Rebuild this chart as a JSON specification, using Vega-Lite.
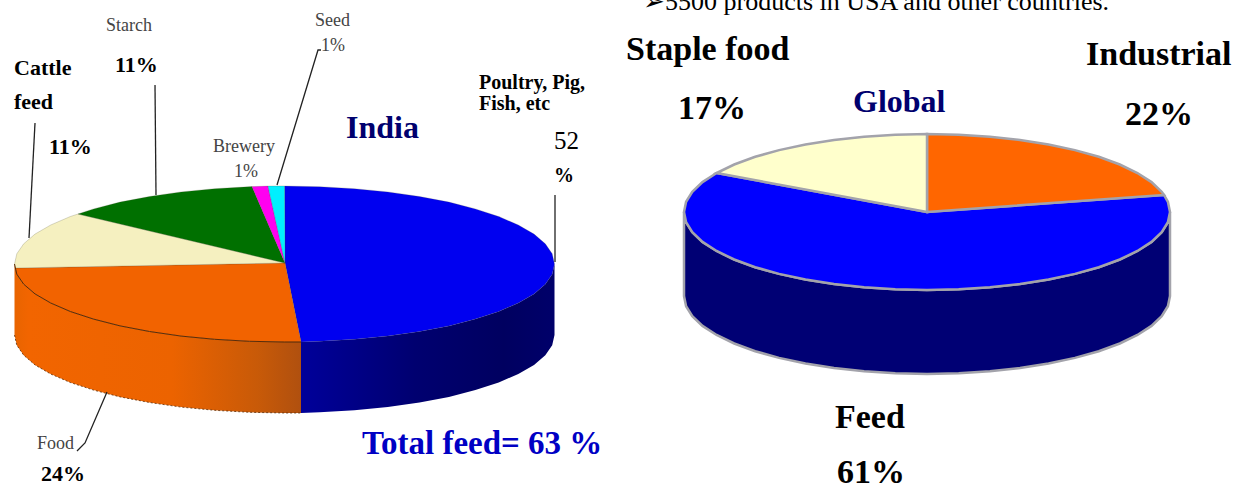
{
"$schema":"https://vega.github.io/schema/vega-lite/v6.json",
"width":1235,"height":488,
"autosize":{"type":"fit","contains":"padding"},
"padding":0,
"background":"white",
"config":{"view":{"stroke":null}},
"datasets":{
"tops":[
{"pie":"India","slice":"Poultry, Pig, Fish, etc","share":52,"step":0,"x":285,"y":263},
{"pie":"India","slice":"Poultry, Pig, Fish, etc","share":52,"step":1,"x":284.5,"y":186},
{"pie":"India","slice":"Poultry, Pig, Fish, etc","share":52,"step":2,"x":319.7,"y":186.7},
{"pie":"India","slice":"Poultry, Pig, Fish, etc","share":52,"step":3,"x":354.4,"y":188.7},
{"pie":"India","slice":"Poultry, Pig, Fish, etc","share":52,"step":4,"x":387.8,"y":191.9},
{"pie":"India","slice":"Poultry, Pig, Fish, etc","share":52,"step":5,"x":419.5,"y":196.5},
{"pie":"India","slice":"Poultry, Pig, Fish, etc","share":52,"step":6,"x":448.9,"y":202.1},
{"pie":"India","slice":"Poultry, Pig, Fish, etc","share":52,"step":7,"x":475.4,"y":208.9},
{"pie":"India","slice":"Poultry, Pig, Fish, etc","share":52,"step":8,"x":498.7,"y":216.5},
{"pie":"India","slice":"Poultry, Pig, Fish, etc","share":52,"step":9,"x":518.3,"y":225},
{"pie":"India","slice":"Poultry, Pig, Fish, etc","share":52,"step":10,"x":534,"y":234.1},
{"pie":"India","slice":"Poultry, Pig, Fish, etc","share":52,"step":11,"x":545.3,"y":243.8},
{"pie":"India","slice":"Poultry, Pig, Fish, etc","share":52,"step":12,"x":552.2,"y":253.8},
{"pie":"India","slice":"Poultry, Pig, Fish, etc","share":52,"step":13,"x":554.5,"y":264},
{"pie":"India","slice":"Poultry, Pig, Fish, etc","share":52,"step":14,"x":552.2,"y":274.2},
{"pie":"India","slice":"Poultry, Pig, Fish, etc","share":52,"step":15,"x":545.3,"y":284.2},
{"pie":"India","slice":"Poultry, Pig, Fish, etc","share":52,"step":16,"x":534,"y":293.9},
{"pie":"India","slice":"Poultry, Pig, Fish, etc","share":52,"step":17,"x":518.3,"y":303},
{"pie":"India","slice":"Poultry, Pig, Fish, etc","share":52,"step":18,"x":498.7,"y":311.5},
{"pie":"India","slice":"Poultry, Pig, Fish, etc","share":52,"step":19,"x":475.4,"y":319.1},
{"pie":"India","slice":"Poultry, Pig, Fish, etc","share":52,"step":20,"x":448.9,"y":325.9},
{"pie":"India","slice":"Poultry, Pig, Fish, etc","share":52,"step":21,"x":419.5,"y":331.5},
{"pie":"India","slice":"Poultry, Pig, Fish, etc","share":52,"step":22,"x":387.8,"y":336.1},
{"pie":"India","slice":"Poultry, Pig, Fish, etc","share":52,"step":23,"x":354.4,"y":339.3},
{"pie":"India","slice":"Poultry, Pig, Fish, etc","share":52,"step":24,"x":319.7,"y":341.3},
{"pie":"India","slice":"Poultry, Pig, Fish, etc","share":52,"step":25,"x":301,"y":342},
{"pie":"India","slice":"Food","share":24,"step":0,"x":285,"y":263},
{"pie":"India","slice":"Food","share":24,"step":1,"x":301,"y":342},
{"pie":"India","slice":"Food","share":24,"step":2,"x":284.5,"y":342},
{"pie":"India","slice":"Food","share":24,"step":3,"x":249.3,"y":341.3},
{"pie":"India","slice":"Food","share":24,"step":4,"x":214.6,"y":339.3},
{"pie":"India","slice":"Food","share":24,"step":5,"x":181.2,"y":336.1},
{"pie":"India","slice":"Food","share":24,"step":6,"x":149.5,"y":331.5},
{"pie":"India","slice":"Food","share":24,"step":7,"x":120.1,"y":325.9},
{"pie":"India","slice":"Food","share":24,"step":8,"x":93.6,"y":319.1},
{"pie":"India","slice":"Food","share":24,"step":9,"x":70.3,"y":311.5},
{"pie":"India","slice":"Food","share":24,"step":10,"x":50.7,"y":303},
{"pie":"India","slice":"Food","share":24,"step":11,"x":35,"y":293.9},
{"pie":"India","slice":"Food","share":24,"step":12,"x":23.7,"y":284.2},
{"pie":"India","slice":"Food","share":24,"step":13,"x":16.8,"y":274.2},
{"pie":"India","slice":"Food","share":24,"step":14,"x":15,"y":268},
{"pie":"India","slice":"Cattle feed","share":11,"step":0,"x":285,"y":263},
{"pie":"India","slice":"Cattle feed","share":11,"step":1,"x":15,"y":268},
{"pie":"India","slice":"Cattle feed","share":11,"step":2,"x":14.5,"y":264},
{"pie":"India","slice":"Cattle feed","share":11,"step":3,"x":16.8,"y":253.8},
{"pie":"India","slice":"Cattle feed","share":11,"step":4,"x":23.7,"y":243.8},
{"pie":"India","slice":"Cattle feed","share":11,"step":5,"x":35,"y":234.1},
{"pie":"India","slice":"Cattle feed","share":11,"step":6,"x":50.7,"y":225},
{"pie":"India","slice":"Cattle feed","share":11,"step":7,"x":70.3,"y":216.5},
{"pie":"India","slice":"Cattle feed","share":11,"step":8,"x":78,"y":214},
{"pie":"India","slice":"Starch","share":11,"step":0,"x":285,"y":263},
{"pie":"India","slice":"Starch","share":11,"step":1,"x":78,"y":214},
{"pie":"India","slice":"Starch","share":11,"step":2,"x":93.6,"y":208.9},
{"pie":"India","slice":"Starch","share":11,"step":3,"x":120.1,"y":202.1},
{"pie":"India","slice":"Starch","share":11,"step":4,"x":149.5,"y":196.5},
{"pie":"India","slice":"Starch","share":11,"step":5,"x":181.2,"y":191.9},
{"pie":"India","slice":"Starch","share":11,"step":6,"x":214.6,"y":188.7},
{"pie":"India","slice":"Starch","share":11,"step":7,"x":252,"y":186.6},
{"pie":"India","slice":"Brewery","share":1,"step":0,"x":285,"y":263},
{"pie":"India","slice":"Brewery","share":1,"step":1,"x":252,"y":186.6},
{"pie":"India","slice":"Brewery","share":1,"step":2,"x":268,"y":186.1},
{"pie":"India","slice":"Seed","share":1,"step":0,"x":285,"y":263},
{"pie":"India","slice":"Seed","share":1,"step":1,"x":268,"y":186.1},
{"pie":"India","slice":"Seed","share":1,"step":2,"x":284.5,"y":186},
{"pie":"Global","slice":"Feed","share":61,"step":0,"x":927,"y":212},
{"pie":"Global","slice":"Feed","share":61,"step":1,"x":716.6,"y":173},
{"pie":"Global","slice":"Feed","share":61,"step":2,"x":702.5,"y":182.1},
{"pie":"Global","slice":"Feed","share":61,"step":3,"x":692.3,"y":191.8},
{"pie":"Global","slice":"Feed","share":61,"step":4,"x":686.1,"y":201.8},
{"pie":"Global","slice":"Feed","share":61,"step":5,"x":684,"y":212},
{"pie":"Global","slice":"Feed","share":61,"step":6,"x":686.1,"y":222.2},
{"pie":"Global","slice":"Feed","share":61,"step":7,"x":692.3,"y":232.2},
{"pie":"Global","slice":"Feed","share":61,"step":8,"x":702.5,"y":241.9},
{"pie":"Global","slice":"Feed","share":61,"step":9,"x":716.6,"y":251},
{"pie":"Global","slice":"Feed","share":61,"step":10,"x":734.2,"y":259.5},
{"pie":"Global","slice":"Feed","share":61,"step":11,"x":755.2,"y":267.2},
{"pie":"Global","slice":"Feed","share":61,"step":12,"x":779.1,"y":273.9},
{"pie":"Global","slice":"Feed","share":61,"step":13,"x":805.5,"y":279.5},
{"pie":"Global","slice":"Feed","share":61,"step":14,"x":834,"y":284.1},
{"pie":"Global","slice":"Feed","share":61,"step":15,"x":864.1,"y":287.3},
{"pie":"Global","slice":"Feed","share":61,"step":16,"x":895.3,"y":289.3},
{"pie":"Global","slice":"Feed","share":61,"step":17,"x":927,"y":290},
{"pie":"Global","slice":"Feed","share":61,"step":18,"x":958.7,"y":289.3},
{"pie":"Global","slice":"Feed","share":61,"step":19,"x":989.9,"y":287.3},
{"pie":"Global","slice":"Feed","share":61,"step":20,"x":1020,"y":284.1},
{"pie":"Global","slice":"Feed","share":61,"step":21,"x":1048.5,"y":279.5},
{"pie":"Global","slice":"Feed","share":61,"step":22,"x":1074.9,"y":273.9},
{"pie":"Global","slice":"Feed","share":61,"step":23,"x":1098.8,"y":267.2},
{"pie":"Global","slice":"Feed","share":61,"step":24,"x":1119.8,"y":259.5},
{"pie":"Global","slice":"Feed","share":61,"step":25,"x":1137.4,"y":251},
{"pie":"Global","slice":"Feed","share":61,"step":26,"x":1151.5,"y":241.9},
{"pie":"Global","slice":"Feed","share":61,"step":27,"x":1161.7,"y":232.2},
{"pie":"Global","slice":"Feed","share":61,"step":28,"x":1167.9,"y":222.2},
{"pie":"Global","slice":"Feed","share":61,"step":29,"x":1170,"y":212},
{"pie":"Global","slice":"Feed","share":61,"step":30,"x":1167.9,"y":201.8},
{"pie":"Global","slice":"Feed","share":61,"step":31,"x":1164,"y":195},
{"pie":"Global","slice":"Industrial","share":22,"step":0,"x":927,"y":212},
{"pie":"Global","slice":"Industrial","share":22,"step":1,"x":927,"y":134},
{"pie":"Global","slice":"Industrial","share":22,"step":2,"x":958.7,"y":134.7},
{"pie":"Global","slice":"Industrial","share":22,"step":3,"x":989.9,"y":136.7},
{"pie":"Global","slice":"Industrial","share":22,"step":4,"x":1020,"y":139.9},
{"pie":"Global","slice":"Industrial","share":22,"step":5,"x":1048.5,"y":144.5},
{"pie":"Global","slice":"Industrial","share":22,"step":6,"x":1074.9,"y":150.1},
{"pie":"Global","slice":"Industrial","share":22,"step":7,"x":1098.8,"y":156.8},
{"pie":"Global","slice":"Industrial","share":22,"step":8,"x":1119.8,"y":164.5},
{"pie":"Global","slice":"Industrial","share":22,"step":9,"x":1137.4,"y":173},
{"pie":"Global","slice":"Industrial","share":22,"step":10,"x":1151.5,"y":182.1},
{"pie":"Global","slice":"Industrial","share":22,"step":11,"x":1161.7,"y":191.8},
{"pie":"Global","slice":"Industrial","share":22,"step":12,"x":1164,"y":195},
{"pie":"Global","slice":"Staple food","share":17,"step":0,"x":927,"y":212},
{"pie":"Global","slice":"Staple food","share":17,"step":1,"x":716.6,"y":173},
{"pie":"Global","slice":"Staple food","share":17,"step":2,"x":734.2,"y":164.5},
{"pie":"Global","slice":"Staple food","share":17,"step":3,"x":755.2,"y":156.8},
{"pie":"Global","slice":"Staple food","share":17,"step":4,"x":779.1,"y":150.1},
{"pie":"Global","slice":"Staple food","share":17,"step":5,"x":805.5,"y":144.5},
{"pie":"Global","slice":"Staple food","share":17,"step":6,"x":834,"y":139.9},
{"pie":"Global","slice":"Staple food","share":17,"step":7,"x":864.1,"y":136.7},
{"pie":"Global","slice":"Staple food","share":17,"step":8,"x":895.3,"y":134.7},
{"pie":"Global","slice":"Staple food","share":17,"step":9,"x":927,"y":134}
],
"walls":[
{"slice":"Food","x":14.5,"y":264,"y2":335},
{"slice":"Food","x":16.8,"y":274.2,"y2":345.2},
{"slice":"Food","x":23.7,"y":284.2,"y2":355.2},
{"slice":"Food","x":35,"y":293.9,"y2":364.9},
{"slice":"Food","x":50.7,"y":303,"y2":374},
{"slice":"Food","x":70.3,"y":311.5,"y2":382.5},
{"slice":"Food","x":93.6,"y":319.1,"y2":390.1},
{"slice":"Food","x":120.1,"y":325.9,"y2":396.9},
{"slice":"Food","x":149.5,"y":331.5,"y2":402.5},
{"slice":"Food","x":181.2,"y":336.1,"y2":407.1},
{"slice":"Food","x":214.6,"y":339.3,"y2":410.3},
{"slice":"Food","x":249.3,"y":341.3,"y2":412.3},
{"slice":"Food","x":284.5,"y":342,"y2":413},
{"slice":"Food","x":301,"y":342,"y2":413},
{"slice":"Poultry, Pig, Fish, etc","x":301,"y":342,"y2":413},
{"slice":"Poultry, Pig, Fish, etc","x":319.7,"y":341.3,"y2":412.3},
{"slice":"Poultry, Pig, Fish, etc","x":354.4,"y":339.3,"y2":410.3},
{"slice":"Poultry, Pig, Fish, etc","x":387.8,"y":336.1,"y2":407.1},
{"slice":"Poultry, Pig, Fish, etc","x":419.5,"y":331.5,"y2":402.5},
{"slice":"Poultry, Pig, Fish, etc","x":448.9,"y":325.9,"y2":396.9},
{"slice":"Poultry, Pig, Fish, etc","x":475.4,"y":319.1,"y2":390.1},
{"slice":"Poultry, Pig, Fish, etc","x":498.7,"y":311.5,"y2":382.5},
{"slice":"Poultry, Pig, Fish, etc","x":518.3,"y":303,"y2":374},
{"slice":"Poultry, Pig, Fish, etc","x":534,"y":293.9,"y2":364.9},
{"slice":"Poultry, Pig, Fish, etc","x":545.3,"y":284.2,"y2":355.2},
{"slice":"Poultry, Pig, Fish, etc","x":552.2,"y":274.2,"y2":345.2},
{"slice":"Poultry, Pig, Fish, etc","x":554.5,"y":264,"y2":335},
{"slice":"Feed","x":684,"y":212,"y2":296},
{"slice":"Feed","x":686.1,"y":222.2,"y2":306.2},
{"slice":"Feed","x":692.3,"y":232.2,"y2":316.2},
{"slice":"Feed","x":702.5,"y":241.9,"y2":325.9},
{"slice":"Feed","x":716.6,"y":251,"y2":335},
{"slice":"Feed","x":734.2,"y":259.5,"y2":343.5},
{"slice":"Feed","x":755.2,"y":267.2,"y2":351.2},
{"slice":"Feed","x":779.1,"y":273.9,"y2":357.9},
{"slice":"Feed","x":805.5,"y":279.5,"y2":363.5},
{"slice":"Feed","x":834,"y":284.1,"y2":368.1},
{"slice":"Feed","x":864.1,"y":287.3,"y2":371.3},
{"slice":"Feed","x":895.3,"y":289.3,"y2":373.3},
{"slice":"Feed","x":927,"y":290,"y2":374},
{"slice":"Feed","x":958.7,"y":289.3,"y2":373.3},
{"slice":"Feed","x":989.9,"y":287.3,"y2":371.3},
{"slice":"Feed","x":1020,"y":284.1,"y2":368.1},
{"slice":"Feed","x":1048.5,"y":279.5,"y2":363.5},
{"slice":"Feed","x":1074.9,"y":273.9,"y2":357.9},
{"slice":"Feed","x":1098.8,"y":267.2,"y2":351.2},
{"slice":"Feed","x":1119.8,"y":259.5,"y2":343.5},
{"slice":"Feed","x":1137.4,"y":251,"y2":335},
{"slice":"Feed","x":1151.5,"y":241.9,"y2":325.9},
{"slice":"Feed","x":1161.7,"y":232.2,"y2":316.2},
{"slice":"Feed","x":1167.9,"y":222.2,"y2":306.2},
{"slice":"Feed","x":1170,"y":212,"y2":296}
],
"leaders":[
{"leader":"Food","step":0,"x":107,"y":392},
{"leader":"Food","step":1,"x":85,"y":443},
{"leader":"Food","step":2,"x":77,"y":451},
{"leader":"Cattle feed","step":0,"x":35,"y":123},
{"leader":"Cattle feed","step":1,"x":29,"y":238},
{"leader":"Starch","step":0,"x":155,"y":85},
{"leader":"Starch","step":1,"x":156,"y":195},
{"leader":"Seed","step":0,"x":321,"y":50},
{"leader":"Seed","step":1,"x":318,"y":50},
{"leader":"Seed","step":2,"x":277,"y":185},
{"leader":"Poultry","step":0,"x":555,"y":195},
{"leader":"Poultry","step":1,"x":555,"y":262}
],
"labels":[
{"group":"callout","label":"Starch","x":106,"y":31},
{"group":"callout","label":"Seed","x":315,"y":26},
{"group":"callout","label":"1%","x":321,"y":51},
{"group":"callout","label":"Brewery","x":213,"y":152},
{"group":"callout","label":"1%","x":234,"y":177},
{"group":"callout","label":"Food","x":37,"y":449},
{"group":"strong","label":"Cattle","x":14,"y":75},
{"group":"strong","label":"feed","x":14,"y":109},
{"group":"strong","label":"11%","x":115,"y":72},
{"group":"strong","label":"11%","x":49,"y":154},
{"group":"strong","label":"24%","x":41,"y":481},
{"group":"small","label":"Poultry, Pig,","x":479,"y":89},
{"group":"small","label":"Fish, etc","x":479,"y":110},
{"group":"small","label":"%","x":554,"y":182},
{"group":"plain","label":"52","x":554,"y":149},
{"group":"title","label":"India","x":346,"y":138},
{"group":"title","label":"Global","x":853,"y":112},
{"group":"total","label":"Total feed= 63 %","x":362,"y":454},
{"group":"large","label":"Staple food","x":626,"y":60},
{"group":"large","label":"Industrial","x":1086,"y":65},
{"group":"large","label":"17%","x":678,"y":119},
{"group":"large","label":"22%","x":1125,"y":125},
{"group":"large","label":"Feed","x":835,"y":428},
{"group":"large","label":"61%","x":837,"y":483},
{"group":"note","label":"➢5500 products in USA and other countries.","x":643,"y":10}
]
},
"encoding":{
"x":{"field":"x","type":"quantitative","axis":null,"scale":{"domain":[0,1235],"nice":false,"zero":false}},
"y":{"field":"y","type":"quantitative","axis":null,"scale":{"domain":[488,0],"nice":false,"zero":false}}
},
"layer":[
{"data":{"name":"walls"},"transform":[{"filter":"datum.slice==='Food'"}],
 "mark":{"type":"area","fill":{"gradient":"linear","x1":0,"x2":1,"y1":0,"y2":0,"stops":[{"offset":0,"color":"#e86400"},{"offset":0.05,"color":"#f26500"},{"offset":0.55,"color":"#ec6300"},{"offset":0.85,"color":"#c85a08"},{"offset":1,"color":"#b0500f"}]}},
 "encoding":{"y2":{"field":"y2"}}},
{"data":{"name":"walls"},"transform":[{"filter":"datum.slice==='Poultry, Pig, Fish, etc'"}],
 "mark":{"type":"area","fill":{"gradient":"linear","x1":0,"x2":1,"y1":0,"y2":0,"stops":[{"offset":0,"color":"#00009a"},{"offset":0.45,"color":"#000070"},{"offset":0.8,"color":"#000060"},{"offset":1,"color":"#00006a"}]}},
 "encoding":{"y2":{"field":"y2"}}},
{"data":{"name":"walls"},"transform":[{"filter":"datum.slice==='Feed'"}],
 "mark":{"type":"area","fill":"#000074","stroke":"#a3a3ab","strokeWidth":2.5},
 "encoding":{"y2":{"field":"y2"}}},
{"data":{"name":"tops"},"transform":[{"filter":"datum.pie==='India'"}],
 "mark":{"type":"line","interpolate":"linear-closed","strokeWidth":0.6,"stroke":"#4a4a30","strokeOpacity":0.35},
 "encoding":{"order":{"field":"step"},"detail":{"field":"slice"},
  "fill":{"field":"slice","legend":null,"scale":{"domain":["Poultry, Pig, Fish, etc","Food","Cattle feed","Starch","Brewery","Seed","Feed","Industrial","Staple food"],"range":["#0000f0","#f26300","#f5f0c0","#007000","#ff00f0","#00f0ff","#0000ff","#ff6600","#ffffcc"]}}}},
{"data":{"name":"tops"},"transform":[{"filter":"datum.pie==='Global'"}],
 "mark":{"type":"line","interpolate":"linear-closed","stroke":"#a3a3ab","strokeWidth":2.5},
 "encoding":{"order":{"field":"step"},"detail":{"field":"slice"},
  "fill":{"field":"slice","legend":null}}},
{"data":{"name":"walls"},"transform":[{"filter":"datum.slice==='Food'"}],
 "mark":{"type":"line","stroke":"#5a2c08","strokeWidth":1},"encoding":{"order":{"field":"x"}}},
{"data":{"name":"walls"},"transform":[{"filter":"datum.slice==='Food'"}],
 "mark":{"type":"line","stroke":"#5a2c08","strokeWidth":0.8,"strokeDash":[2,2]},"encoding":{"order":{"field":"x"},"y":{"field":"y2","type":"quantitative"}}},
{"data":{"name":"leaders"},
 "mark":{"type":"line","stroke":"#222222","strokeWidth":1.3},
 "encoding":{"order":{"field":"step"},"detail":{"field":"leader"}}},
{"data":{"name":"labels"},"transform":[{"filter":"datum.group==='callout'"}],
 "mark":{"type":"text","align":"left","baseline":"alphabetic","font":"Liberation Serif","fontSize":18,"fill":"#444444"},
 "encoding":{"text":{"field":"label"}}},
{"data":{"name":"labels"},"transform":[{"filter":"datum.group==='strong'"}],
 "mark":{"type":"text","align":"left","baseline":"alphabetic","font":"Liberation Serif","fontWeight":"bold","fontSize":22,"fill":"#000000"},
 "encoding":{"text":{"field":"label"}}},
{"data":{"name":"labels"},"transform":[{"filter":"datum.group==='small'"}],
 "mark":{"type":"text","align":"left","baseline":"alphabetic","font":"Liberation Serif","fontWeight":"bold","fontSize":20,"fill":"#000000"},
 "encoding":{"text":{"field":"label"}}},
{"data":{"name":"labels"},"transform":[{"filter":"datum.group==='plain'"}],
 "mark":{"type":"text","align":"left","baseline":"alphabetic","font":"Liberation Serif","fontSize":25,"fill":"#000000"},
 "encoding":{"text":{"field":"label"}}},
{"data":{"name":"labels"},"transform":[{"filter":"datum.group==='title'"}],
 "mark":{"type":"text","align":"left","baseline":"alphabetic","font":"Liberation Serif","fontWeight":"bold","fontSize":32,"fill":"#00006e"},
 "encoding":{"text":{"field":"label"}}},
{"data":{"name":"labels"},"transform":[{"filter":"datum.group==='total'"}],
 "mark":{"type":"text","align":"left","baseline":"alphabetic","font":"Liberation Serif","fontWeight":"bold","fontSize":33,"fill":"#0000c4"},
 "encoding":{"text":{"field":"label"}}},
{"data":{"name":"labels"},"transform":[{"filter":"datum.group==='large'"}],
 "mark":{"type":"text","clip":true,"align":"left","baseline":"alphabetic","font":"Liberation Serif","fontWeight":"bold","fontSize":34,"fill":"#000000"},
 "encoding":{"text":{"field":"label"}}},
{"data":{"name":"labels"},"transform":[{"filter":"datum.group==='note'"}],
 "mark":{"type":"text","clip":true,"align":"left","baseline":"alphabetic","font":"Liberation Serif","fontSize":26,"fill":"#000000"},
 "encoding":{"text":{"field":"label"}}}
]
}
